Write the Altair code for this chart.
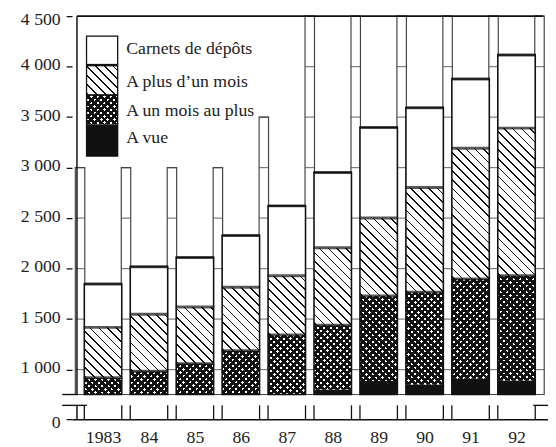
import altair as alt
import pandas as pd

# ---------------- data ----------------
years = [1983, 1984, 1985, 1986, 1987, 1988, 1989, 1990, 1991, 1992]
a_vue = [640, 660, 690, 720, 745, 804, 886, 853, 909, 892]
un_mois_au_plus = [279, 324, 369, 466, 597, 636, 842, 914, 988, 1038]
plus_un_mois = [499, 564, 561, 630, 588, 767, 773, 1037, 1295, 1461]
carnets = [430, 470, 490, 512, 691, 744, 897, 789, 685, 724]

y_ticks = [0, 1000, 1500, 2000, 2500, 3000, 3500, 4000, 4500]
gap_centers = [1982.5, 1983.5, 1984.5, 1985.5, 1986.5, 1987.5, 1988.5, 1989.5, 1990.5, 1991.5, 1992.5]
gap_tops = [3000, 3000, 3000, 3000, 3500, 4500, 4500, 4500, 4500, 4500, 4500]

legend_labels = ["Carnets de dépôts", "A plus d\u2019un mois", "A un mois au plus", "A vue"]

# ---------------- layout ----------------
W, H = 483, 409
X_DOMAIN = [1982.433, 1992.578]
BREAK_LO = 753          # lowest value shown in the upper part
STUB_TOP = 200          # top of the lower (compressed) part
Y_DOMAIN = [0, STUB_TOP, BREAK_LO, 4500]
Y_RANGE = [409, 395, 384, 0]
KY = 384 / (4500 - BREAK_LO)
BAR = 38
GAP = 9.6
FONT = "Liberation Serif"
INK = "#111"

xscale = alt.Scale(domain=X_DOMAIN, nice=False, zero=False)
yscale = alt.Scale(domain=Y_DOMAIN, range=Y_RANGE, nice=False, zero=False)
xaxis = alt.Axis(values=years,
                 labelExpr="datum.value == 1983 ? '1983' : slice(toString(datum.value), 2)",
                 ticks=False, domain=True, domainColor=INK, domainWidth=1.5,
                 labelFont=FONT, labelFontSize=18, labelColor="#222", labelPadding=10,
                 grid=False, title=None)
yaxis = alt.Axis(values=y_ticks,
                 labelExpr="datum.value >= 1000 ? floor(datum.value/1000) + ' ' + format(datum.value % 1000, '03d') : '0'",
                 domain=False, ticks=True, tickSize=6, tickColor=INK, tickWidth=1.3,
                 labelFont=FONT, labelFontSize=18, labelColor="#222", labelPadding=6,
                 labelBaseline="middle",
                 labelOffset={"condition": {"test": "datum.value == 4500 || datum.value == 0",
                                            "value": 3}, "value": -2},
                 grid=False, title=None)


def X(f):
    return alt.X(f"{f}:Q", scale=xscale, axis=xaxis)


def Y(f):
    return alt.Y(f"{f}:Q", scale=yscale, axis=yaxis)


def stripes(w, h, period, lw, kind, bg, fg, phase=1.5):
    L = w + h
    m = L / (w * w + h * h)
    if kind == "back":      # lines like "\"
        x1, y1, x2, y2 = 0, 1, w * m, 1 - h * m
    else:                   # lines like "/"
        x1, y1, x2, y2 = 0, 0, w * m, h * m
    stops = [{"offset": 0, "color": bg}]
    s = phase
    while s < L:
        e = min(s + lw, L)
        a, b = round(s / L, 5), round(e / L, 5)
        stops += [{"offset": a, "color": bg}, {"offset": a, "color": fg},
                  {"offset": b, "color": fg}, {"offset": b, "color": bg}]
        s += period
    stops.append({"offset": 1, "color": bg})
    return {"gradient": "linear", "x1": x1, "y1": y1, "x2": round(x2, 5),
            "y2": round(y2, 5), "stops": stops}


CLEAR = "rgba(255,255,255,0)"
HATCH = (9.0, 1.7)
CROSS = (6.6, 3.8)

# ---------------- tables built from the arrays ----------------
fill_rows, top_rows, outline_rows = [], [], []
for i, yr in enumerate(years):
    c1 = a_vue[i]
    c2 = c1 + un_mois_au_plus[i]
    c3 = c2 + plus_un_mois[i]
    c4 = c3 + carnets[i]
    outline_rows.append({"x": yr, "y": BREAK_LO, "y2": c4})
    for v in (c2, c3, c4):
        top_rows.append({"x": yr, "y": v})
    for kind, lo, hi in (("vue", 0, c1), ("cross", c1, c2), ("hatch", c2, c3), ("carnets", c3, c4)):
        b = max(lo, BREAK_LO)
        if hi <= b:
            continue
        h = (hi - b) * KY
        if kind == "vue":
            fill_rows.append({"x": yr, "y": b, "y2": hi, "grad": INK})
        elif kind == "cross":
            fill_rows.append({"x": yr, "y": b, "y2": hi,
                              "grad": stripes(BAR, h, CROSS[0], CROSS[1], "back", "white", INK)})
            fill_rows.append({"x": yr, "y": b, "y2": hi,
                              "grad": stripes(BAR, h, CROSS[0], CROSS[1], "fwd", CLEAR, INK)})
        elif kind == "hatch":
            fill_rows.append({"x": yr, "y": b, "y2": hi,
                              "grad": stripes(BAR, h, HATCH[0], HATCH[1], "back", "white", INK)})
        else:
            fill_rows.append({"x": yr, "y": b, "y2": hi, "grad": "white"})

gap_rows = [{"x": g, "y": BREAK_LO, "y2": t} for g, t in zip(gap_centers, gap_tops)]
cross_rows = [{"x": g, "y": v} for g, t in zip(gap_centers, gap_tops) for v in y_ticks if 1000 <= v <= t]
stub_rows = [{"x": yr, "y": 0, "y2": STUB_TOP} for yr in years]
axis_rows = [{"x": X_DOMAIN[0], "y": BREAK_LO, "y2": 4500}, {"x": X_DOMAIN[0], "y": 0, "y2": STUB_TOP}]
border_rows = [{"x": X_DOMAIN[0], "x2": X_DOMAIN[1], "y": 4500}]

layers = []

# gap columns between the bars
layers.append(alt.Chart(alt.Data(values=gap_rows)).mark_bar(
    size=GAP, fill="white", stroke="#444", strokeWidth=1.2
).encode(x=X("x"), y=Y("y"), y2="y2:Q"))
layers.append(alt.Chart(alt.Data(values=cross_rows)).mark_tick(
    orient="horizontal", size=GAP, thickness=1.2, color="#444"
).encode(x=X("x"), y=Y("y")))

# patterned bar segments
layers.append(alt.Chart(alt.Data(values=fill_rows)).mark_bar(size=BAR).encode(
    x=X("x"), y=Y("y"), y2="y2:Q",
    fill=alt.Fill("grad:N", scale=None, legend=None)))

# outlines and thick segment borders
layers.append(alt.Chart(alt.Data(values=outline_rows)).mark_bar(
    size=BAR, filled=False, stroke=INK, strokeWidth=1.6
).encode(x=X("x"), y=Y("y"), y2="y2:Q"))
layers.append(alt.Chart(alt.Data(values=top_rows)).mark_tick(
    orient="horizontal", size=BAR + 1, thickness=3, color=INK
).encode(x=X("x"), y=Y("y")))

# stubs below the break
for off in (-BAR / 2, BAR / 2):
    layers.append(alt.Chart(alt.Data(values=stub_rows)).mark_rule(
        xOffset=off, color=INK, strokeWidth=1.3
    ).encode(x=X("x"), y=Y("y"), y2="y2:Q"))

# broken left axis, top border, break marks
layers.append(alt.Chart(alt.Data(values=axis_rows)).mark_rule(color=INK, strokeWidth=1.5).encode(
    x=X("x"), y=Y("y"), y2="y2:Q"))
layers.append(alt.Chart(alt.Data(values=border_rows)).mark_rule(color=INK, strokeWidth=1.6).encode(
    x=X("x"), x2="x2:Q", y=Y("y")))
for xa, xb, yv in ((-10, 6, BREAK_LO), (-10, 15, STUB_TOP), (468, 483, STUB_TOP)):
    layers.append(alt.Chart(alt.Data(values=[{"y": yv}])).mark_rule(color=INK, strokeWidth=1.4).encode(
        x=alt.value(xa), x2=alt.value(xb), y=Y("y")))

# legend (drawn inside the plot, top left)
LX0, LX1 = 14.7, 46.3
leg_y = [20.3, 49.7, 80.0, 110.0, 142.0]
leg_fills = [
    ["white"],
    [stripes(LX1 - LX0, leg_y[2] - leg_y[1], HATCH[0], HATCH[1], "back", "white", INK)],
    [stripes(LX1 - LX0, leg_y[3] - leg_y[2], CROSS[0], CROSS[1], "back", "white", INK),
     stripes(LX1 - LX0, leg_y[3] - leg_y[2], CROSS[0], CROSS[1], "fwd", CLEAR, INK)],
    [INK],
]
dummy = alt.Data(values=[{"k": 0}])
for k, fills in enumerate(leg_fills):
    for f in fills:
        layers.append(alt.Chart(dummy).mark_rect(fill=f).encode(
            x=alt.value(LX0), x2=alt.value(LX1), y=alt.value(leg_y[k]), y2=alt.value(leg_y[k + 1])))
layers.append(alt.Chart(dummy).mark_rect(filled=False, stroke=INK, strokeWidth=1.3).encode(
    x=alt.value(LX0), x2=alt.value(LX1), y=alt.value(leg_y[0]), y2=alt.value(leg_y[-1])))
for yv, sw in ((leg_y[1], 2.5), (leg_y[2], 1.6)):
    layers.append(alt.Chart(dummy).mark_rule(color=INK, strokeWidth=sw).encode(
        x=alt.value(LX0), x2=alt.value(LX1), y=alt.value(yv)))
leg_text_y = [33.7, 67.0, 96.0, 124.0]
for lab, ty in zip(legend_labels, leg_text_y):
    layers.append(alt.Chart(dummy).mark_text(
        text=lab, align="left", baseline="middle", font=FONT, fontSize=18, color="#222"
    ).encode(x=alt.value(55), y=alt.value(ty)))

chart = alt.layer(*layers).properties(
    width=W, height=H,
    autosize=alt.AutoSizeParams(type="none"),
    padding={"left": 65, "top": 5, "right": 0, "bottom": 25},
    background="white",
).configure_view(stroke=None)

chart.save("out.html", embed_options={"renderer": "svg", "actions": False})
